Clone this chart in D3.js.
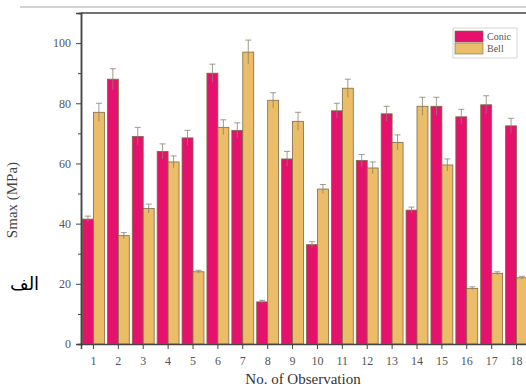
<!DOCTYPE html>
<html>
<head>
<meta charset="utf-8">
<style> body { margin: 0; background: #fff; } </style>
<script src="https://d3js.org/d3.v7.min.js"></script>
</head>
<body>
<div id="chart"></div>
<script>
var observations = ["1","2","3","4","5","6","7","8","9","10","11","12","13","14","15","16","17","18"];
var conic = [41.5, 88, 69, 64, 68.5, 90, 71, 14, 61.5, 33, 77.5, 61, 76.5, 44.5, 79, 75.5, 79.5, 72.5];
var bell  = [77, 36, 45, 60.5, 24, 72, 97, 81, 74, 51.5, 85, 58.5, 67, 79, 59.5, 18.5, 23.5, 22];
var conicErr = [1, 3.5, 3, 2.5, 2.5, 3, 2.5, 0.5, 2.5, 1, 2.5, 2, 2.5, 1, 3, 2.5, 3, 2.5];
var bellErr  = [3, 1, 1.5, 2, 0.5, 2.5, 4, 2.5, 3, 1.5, 3, 2, 2.5, 3, 2, 0.5, 0.5, 0.5];
var yTicks = [0, 20, 40, 60, 80, 100];
var legendNames = ["Conic", "Bell"];

var W = 526, H = 387;
var margin = {top: 13, left: 81, bottom: 43};
var colConic = "#e5116c", colBell = "#ecbd68", edge = "#7d6b45";

var svg = d3.select("#chart").append("svg").attr("width", W).attr("height", H);

// faint frame line of the scanned figure
svg.append("line").attr("x1", 20).attr("x2", W).attr("y1", 7).attr("y2", 7)
    .attr("stroke", "#c4c4c4").attr("stroke-width", 1.5);

var x = d3.scaleBand().domain(observations).range([margin.left, 529]).paddingInner(0.12).paddingOuter(0.06);
var y = d3.scaleLinear().domain([0, 110]).range([H - margin.bottom, margin.top]);

var data = observations.map((o, i) => ({o: o, c: conic[i], b: bell[i], ce: conicErr[i], be: bellErr[i]}));
var bw = x.bandwidth() / 2;

var g = svg.append("g");
function bars(key, errKey, off, col) {
    g.selectAll(".b" + key).data(data).join("rect")
        .attr("x", d => x(d.o) + off)
        .attr("y", d => y(d[key]))
        .attr("width", bw)
        .attr("height", d => y(0) - y(d[key]))
        .attr("fill", col).attr("stroke", edge).attr("stroke-width", 0.8);
    var e = g.selectAll(".e" + key).data(data).join("g");
    e.append("line")
        .attr("x1", d => x(d.o) + off + bw / 2).attr("x2", d => x(d.o) + off + bw / 2)
        .attr("y1", d => y(d[key] - d[errKey])).attr("y2", d => y(d[key] + d[errKey]))
        .attr("stroke", "#8a8270").attr("stroke-width", 0.8);
    e.append("line")
        .attr("x1", d => x(d.o) + off + bw / 2 - 3).attr("x2", d => x(d.o) + off + bw / 2 + 3)
        .attr("y1", d => y(d[key] + d[errKey])).attr("y2", d => y(d[key] + d[errKey]))
        .attr("stroke", "#8a8270").attr("stroke-width", 0.8);
}
bars("c", "ce", 0, colConic);
bars("b", "be", bw, colBell);

// axes
svg.append("g").attr("transform", "translate(" + margin.left + ",0)")
    .call(d3.axisLeft(y).tickValues(yTicks).tickSize(5).tickPadding(5));
svg.append("g").attr("transform", "translate(" + margin.left + ",0)")
    .call(d3.axisLeft(y).tickValues([10, 30, 50, 70, 90]).tickSize(3).tickFormat(""));
svg.append("g").attr("transform", "translate(0," + y(0) + ")")
    .call(d3.axisBottom(x).tickSize(5).tickPadding(7));
svg.selectAll(".domain").attr("stroke", "#444").attr("stroke-width", 1.5);
svg.selectAll(".tick line").attr("stroke", "#444");
svg.selectAll(".tick text").attr("font-family", "Liberation Serif").attr("font-size", 12).attr("fill", "#555");

// top border
svg.append("line").attr("x1", margin.left).attr("x2", W).attr("y1", margin.top).attr("y2", margin.top)
    .attr("stroke", "#444").attr("stroke-width", 1.5);

// legend
var lg = svg.append("g").attr("transform", "translate(453,28)");
lg.append("rect").attr("width", 64).attr("height", 30).attr("fill", "#fff").attr("stroke", "#bbb").attr("stroke-width", 0.6);
[colConic, colBell].forEach((c, i) => {
    lg.append("rect").attr("x", 2).attr("y", 3 + i * 12).attr("width", 28).attr("height", 11)
        .attr("fill", c).attr("stroke", edge).attr("stroke-width", 0.6);
    lg.append("text").attr("x", 34).attr("y", 12 + i * 12).text(legendNames[i])
        .attr("font-family", "Liberation Serif").attr("font-size", 10).attr("fill", "#555");
});

// labels
svg.append("text").attr("transform", "translate(17,200) rotate(-90)").attr("text-anchor", "middle")
    .attr("font-family", "Liberation Serif").attr("font-size", 15).attr("fill", "#444").text("Smax (MPa)");
svg.append("text").attr("x", 303).attr("y", 384).attr("text-anchor", "middle")
    .attr("font-family", "Liberation Serif").attr("font-size", 15).attr("fill", "#333").text("No. of Observation");
svg.append("text").attr("x", 10).attr("y", 290).attr("direction", "rtl").attr("text-anchor", "end")
    .attr("font-family", "DejaVu Sans").attr("font-size", 18).attr("fill", "#000").text("الف");
</script>
</body>
</html>
